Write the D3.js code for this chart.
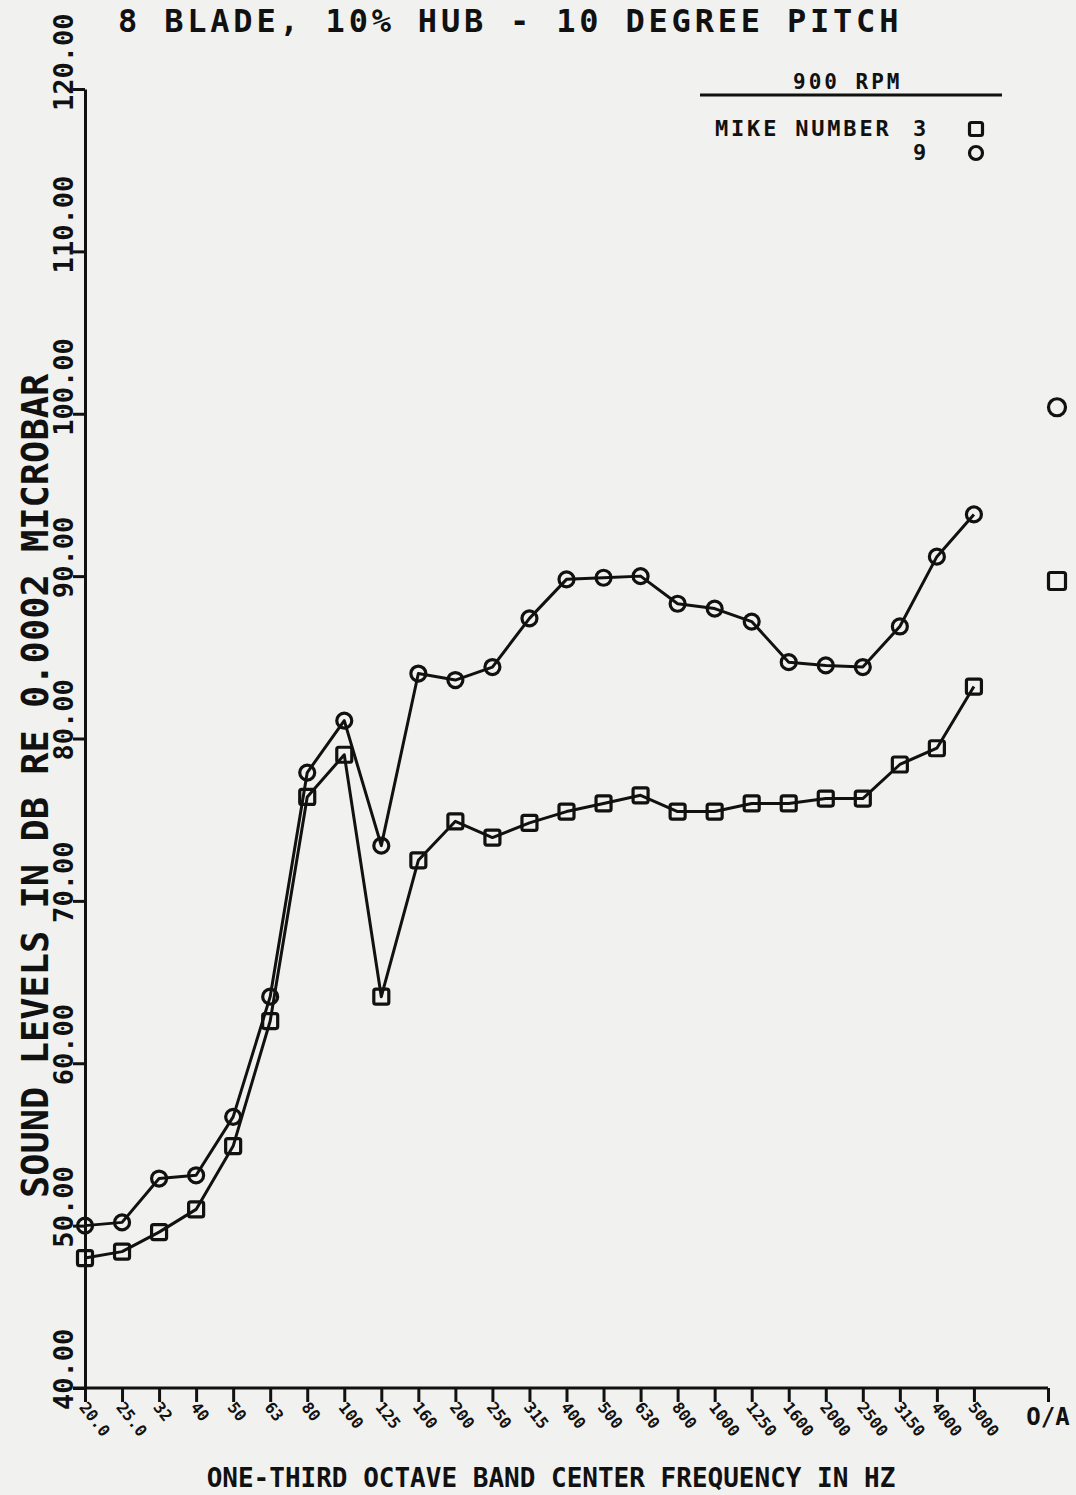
<!DOCTYPE html>
<html>
<head>
<meta charset="utf-8">
<script src="https://cdn.jsdelivr.net/npm/d3@7"></script>
<style>
  html, body { margin: 0; padding: 0; background: #f1f1ef; }
  svg { display: block; }
  text { font-family: "DejaVu Sans Mono", monospace; font-weight: bold; fill: #111; }
</style>
</head>
<body>
<script>
// ---- data ----
const bands = ["20.0","25.0","32","40","50","63","80","100","125","160","200","250","315","400","500","630","800","1000","1250","1600","2000","2500","3150","4000","5000"];
const mike9 = [50.0,50.2,52.9,53.1,56.7,64.1,77.9,81.1,73.4,84.0,83.6,84.4,87.4,89.8,89.9,90.0,88.3,88.0,87.2,84.7,84.5,84.4,86.9,91.2,93.8];
const mike3 = [48.0,48.4,49.6,51.0,54.9,62.6,76.4,79.0,64.1,72.5,74.9,73.9,74.8,75.5,76.0,76.5,75.5,75.5,76.0,76.0,76.3,76.3,78.4,79.4,83.2];
const oaLabel = "O/A";
const oaMike9 = 100.4;
const oaMike3 = 89.7;
const yTicks = [40,50,60,70,80,90,100,110,120];
const titleText = "8 BLADE, 10% HUB - 10 DEGREE PITCH";
const yTitle = "SOUND LEVELS IN DB RE 0.0002 MICROBAR";
const xTitle = "ONE-THIRD OCTAVE BAND CENTER FREQUENCY IN HZ";
const legendTitle = "900  RPM";
const legendText = "MIKE NUMBER";
const legendMikes = ["3", "9"];

// ---- layout ----
const W = 1076, H = 1495;
const ink = "#111";
const svg = d3.select("body").append("svg").attr("width", W).attr("height", H);
svg.append("rect").attr("width", W).attr("height", H).attr("fill", "#f1f1ef");

const oaIndex = 26;
const x = d3.scaleLinear().domain([0, oaIndex]).range([85, 1048]);
const y = d3.scaleLinear().domain([40, 120]).range([1388, 89]);

// title
svg.append("text").attr("x", 118).attr("y", 32).attr("font-size", 32)
  .attr("letter-spacing", 3.8).text(titleText);

// y axis
const yAxis = d3.axisLeft(y).tickValues(yTicks).tickSize(12).tickSizeOuter(0).tickFormat("");
const gy = svg.append("g").attr("transform", `translate(${x(0)},0)`).call(yAxis);
gy.selectAll("path.domain").attr("stroke", ink).attr("stroke-width", 3);
gy.selectAll(".tick line").attr("stroke", ink).attr("stroke-width", 3);
yTicks.forEach(v => {
  svg.append("text")
    .attr("transform", `translate(73,${y(v) + 22}) rotate(-90)`)
    .attr("font-size", 27)
    .text(d3.format(".2f")(v));
});
svg.append("text")
  .attr("transform", `translate(48,1198) rotate(-90)`)
  .attr("font-size", 37)
  .text(yTitle);

// x axis
const xIdx = d3.range(bands.length).concat([oaIndex]);
const xAxis = d3.axisBottom(x).tickValues(xIdx).tickSize(14).tickSizeOuter(0).tickFormat("");
const gx = svg.append("g").attr("transform", `translate(0,${y(40)})`).call(xAxis);
gx.selectAll("path.domain").remove();
gx.selectAll(".tick line").attr("stroke", ink).attr("stroke-width", 3);
svg.append("line").attr("x1", 73).attr("x2", x(oaIndex)).attr("y1", y(40)).attr("y2", y(40))
  .attr("stroke", ink).attr("stroke-width", 3);
bands.forEach((b, i) => {
  svg.append("text")
    .attr("transform", `translate(${x(i) + 3},${y(40) + 12}) rotate(52)`)
    .attr("font-size", 16)
    .attr("dy", "0.75em")
    .text(b);
});
svg.append("text").attr("x", 1048).attr("y", 1425).attr("text-anchor", "middle")
  .attr("font-size", 24).text(oaLabel);
svg.append("text").attr("x", 551).attr("y", 1487).attr("text-anchor", "middle")
  .attr("font-size", 26).text(xTitle);

// lines
const line = d3.line().x((d, i) => x(i)).y(d => y(d));
[mike9, mike3].forEach(s => {
  svg.append("path").attr("d", line(s)).attr("fill", "none")
    .attr("stroke", ink).attr("stroke-width", 3).attr("stroke-linejoin", "round");
});

function circleMark(cx, cy, r) {
  svg.append("circle").attr("cx", cx).attr("cy", cy).attr("r", r)
    .attr("fill", "none").attr("stroke", ink).attr("stroke-width", 3.2);
}
function squareMark(cx, cy, s) {
  svg.append("rect").attr("x", cx - s / 2).attr("y", cy - s / 2).attr("width", s).attr("height", s)
    .attr("rx", 2).attr("fill", "none").attr("stroke", ink).attr("stroke-width", 3.2);
}
mike9.forEach((v, i) => circleMark(x(i), y(v), 7.5));
mike3.forEach((v, i) => squareMark(x(i), y(v), 15));

// overall levels
circleMark(x(oaIndex) + 9, y(oaMike9), 8.5);
squareMark(x(oaIndex) + 9, y(oaMike3), 17);

// legend
svg.append("text").attr("x", 793).attr("y", 89).attr("font-size", 21)
  .attr("letter-spacing", 3).text(legendTitle);
svg.append("line").attr("x1", 700).attr("x2", 1002).attr("y1", 95).attr("y2", 95)
  .attr("stroke", ink).attr("stroke-width", 3);
svg.append("text").attr("x", 715).attr("y", 136).attr("font-size", 22)
  .attr("letter-spacing", 2.8).text(legendText);
svg.append("text").attr("x", 913).attr("y", 136).attr("font-size", 22).text(legendMikes[0]);
svg.append("text").attr("x", 913).attr("y", 160).attr("font-size", 22).text(legendMikes[1]);
squareMark(976, 129, 13);
circleMark(976, 153, 6.5);
</script>
</body>
</html>
